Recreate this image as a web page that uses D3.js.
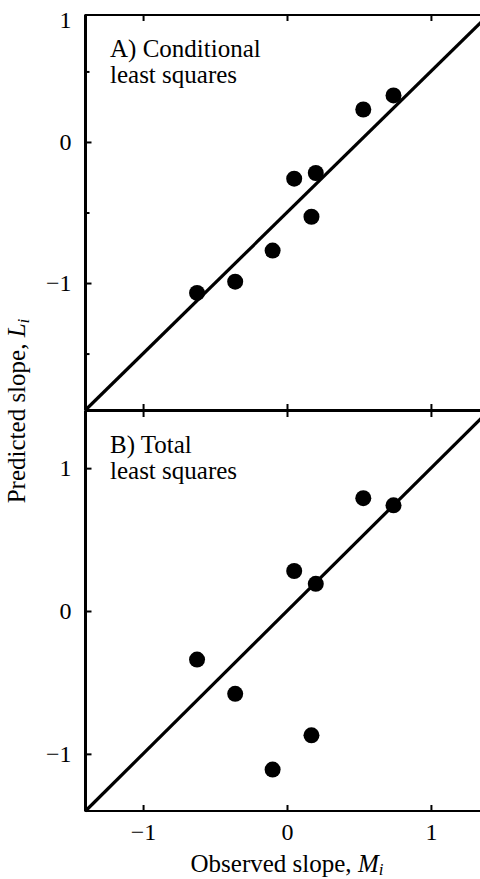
<!DOCTYPE html>
<html>
<head>
<meta charset="utf-8">
<script src="https://cdn.jsdelivr.net/npm/d3@7"></script>
<style>
  body { margin: 0; background: #fff; }
  svg { display: block; }
</style>
</head>
<body>
<div id="chart"></div>
<script>
var width = 480;
var height = 879;
var serif = "'Liberation Serif', 'Times New Roman', serif";

// observed slopes M_i (same in both panels)
var observed = [-0.625, -0.36, -0.10, 0.05, 0.20, 0.17, 0.53, 0.74];
// predicted slopes L_i
var predictedCLS = [-1.07, -0.99, -0.77, -0.26, -0.22, -0.53, 0.23, 0.33];
var predictedTLS = [-0.34, -0.58, -1.11, 0.28, 0.19, -0.87, 0.79, 0.74];

// fitted lines, [x, y] end points
var lineCLS = [[-1.4, -1.9], [1.4, 0.9]];
var lineTLS = [[-1.4, -1.4], [1.4, 1.4]];

var panelLabels = [["A) Conditional", "least squares"], ["B) Total", "least squares"]];
var xTicks = [-1, 0, 1];
var yTicksA = [-1, 0];
var yTicksB = [-1, 0, 1];
var yMinorA = [0.5, -0.5, -1.5];

var fmt = function(d){ return d < 0 ? "\u2212" + Math.abs(d) : "" + d; };

var svg = d3.select("#chart").append("svg")
  .attr("width", width)
  .attr("height", height)
  .style("font-family", serif);

var x = d3.scaleLinear().domain([-1.4, 1.4]).range([85.5, 488.5]);
var yA = d3.scaleLinear().domain([-1.9, 0.9]).range([410, 15]);
var yB = d3.scaleLinear().domain([-1.4, 1.4]).range([811, 411]);

var styleText = function(sel, size){
  sel.style("font-family", serif).style("font-size", size + "px").attr("fill", "#000");
};

var drawPanel = function(y, values, fit, labels, yTicks, minor, showX){
  var top = y.range()[1], bottom = y.range()[0];
  var g = svg.append("g");

  // frame
  g.append("rect")
    .attr("x", x.range()[0]).attr("y", top)
    .attr("width", x.range()[1] - x.range()[0])
    .attr("height", bottom - top)
    .attr("fill", "none").attr("stroke", "#000").attr("stroke-width", 2);
  g.append("line")
    .attr("x1", x.range()[0]).attr("x2", x.range()[0])
    .attr("y1", top).attr("y2", bottom)
    .attr("stroke", "#000").attr("stroke-width", 3);

  // top ticks, pointing down
  g.append("g").attr("transform", "translate(0," + top + ")")
    .call(d3.axisBottom(x).tickValues(xTicks).tickSize(6).tickFormat(""))
    .call(function(a){ a.select(".domain").remove(); })
    .selectAll("line").attr("stroke-width", 2);

  // bottom ticks, pointing up
  var bx = g.append("g").attr("transform", "translate(0," + bottom + ")")
    .call(d3.axisBottom(x).tickValues(xTicks).tickSize(-6).tickPadding(12)
      .tickFormat(showX ? fmt : ""));
  bx.select(".domain").remove();
  bx.selectAll("line").attr("stroke-width", 2);
  bx.selectAll("text").call(styleText, 24);

  // left ticks
  var ly = g.append("g").attr("transform", "translate(" + x.range()[0] + ",0)")
    .call(d3.axisLeft(y).tickValues(yTicks).tickSize(-6).tickPadding(14).tickFormat(fmt));
  ly.select(".domain").remove();
  ly.selectAll("line").attr("stroke-width", 2);
  ly.selectAll("text").call(styleText, 24);

  if (minor) {
    g.append("g").attr("transform", "translate(" + x.range()[0] + ",0)")
      .call(d3.axisLeft(y).tickValues(minor).tickSize(-4).tickFormat(""))
      .call(function(a){ a.select(".domain").remove(); })
      .selectAll("line").attr("stroke-width", 2);
  }

  // fitted line
  g.append("line")
    .attr("x1", x(fit[0][0])).attr("y1", y(fit[0][1]))
    .attr("x2", x(fit[1][0])).attr("y2", y(fit[1][1]))
    .attr("stroke", "#000").attr("stroke-width", 3.2);

  // points
  g.selectAll("circle")
    .data(observed.map(function(m, i){ return [m, values[i]]; }))
    .enter().append("circle")
    .attr("cx", function(d){ return x(d[0]); })
    .attr("cy", function(d){ return y(d[1]); })
    .attr("r", 8)
    .attr("fill", "#000");

  // panel label, two lines
  g.append("text")
    .attr("x", 110).attr("y", top + 42)
    .call(styleText, 25)
    .text(labels[0]);
  g.append("text")
    .attr("x", 110).attr("y", top + 68)
    .call(styleText, 25)
    .text(labels[1]);
};

drawPanel(yA, predictedCLS, lineCLS, panelLabels[0], yTicksA, yMinorA, false);
drawPanel(yB, predictedTLS, lineTLS, panelLabels[1], yTicksB, null, true);

// the "1" at the top of panel A sits at the top edge of the frame
svg.append("text")
  .attr("x", x.range()[0] - 14)
  .attr("y", yA(yA.domain()[1]))
  .attr("dy", "0.55em")
  .attr("text-anchor", "end")
  .call(styleText, 24)
  .text("1");

// axis titles
var xt = svg.append("text")
  .attr("x", x(0)).attr("y", 872)
  .attr("text-anchor", "middle")
  .call(styleText, 25);
xt.append("tspan").text("Observed slope, ");
xt.append("tspan").attr("font-style", "italic").text("M");
xt.append("tspan").attr("font-style", "italic").style("font-size", "17px").attr("dy", 3).text("i");

var yt = svg.append("text")
  .attr("transform", "translate(25," + yB.range()[1] + ") rotate(-90)")
  .attr("text-anchor", "middle")
  .call(styleText, 25);
yt.append("tspan").text("Predicted slope, ");
yt.append("tspan").attr("font-style", "italic").text("L");
yt.append("tspan").attr("font-style", "italic").style("font-size", "17px").attr("dy", 4).text("i");
</script>
</body>
</html>
